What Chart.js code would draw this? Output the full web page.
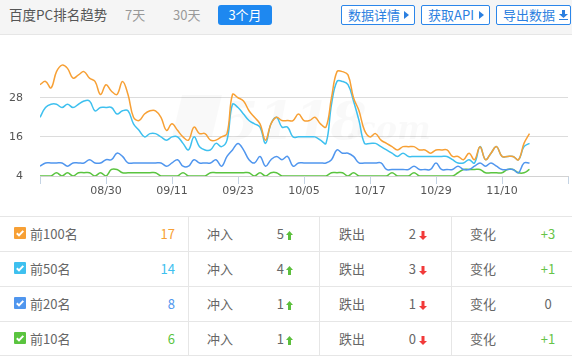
<!DOCTYPE html>
<html>
<head>
<meta charset="utf-8">
<script src="https://cdn.jsdelivr.net/npm/chart.js@4.4.1/dist/chart.umd.min.js"></script>
<style>
* { margin: 0; padding: 0; box-sizing: border-box; }
body { width: 572px; height: 356px; overflow: hidden; background: #fff; position: relative;
  font-family: "Noto Sans CJK SC", "Noto Sans", sans-serif; }
.abs { position: absolute; white-space: nowrap; }
.head { position: absolute; left: 0; top: 0; width: 572px; height: 35px; background: #f5f5f5; border-bottom: 1px solid #e6e6e6; }
.title { left: 9px; top: 0; height: 29px; line-height: 29px; font-size: 13.5px; color: #555; }
.tab { top: 0; height: 29px; line-height: 29px; font-size: 13px; color: #999; }
.tab.on { top: 5px; height: 20px; line-height: 20px; width: 54px; text-align: center; background: #1e88f0; color: #fff; border-radius: 3px; }
.btn { top: 5px; height: 20px; line-height: 18px; border: 1px solid #2b86ea; background: #fff; color: #2b7fe0; font-size: 13px; border-radius: 2px; padding-left: 6px; }
.btn svg { position: absolute; top: 5px; }
#chartBox { position: absolute; left: 0; top: 35px; width: 572px; height: 181px; }
.hline { position: absolute; left: 0; width: 572px; height: 1px; background: #e6e6e6; }
.vline { position: absolute; top: 216px; width: 1px; height: 139px; background: #e6e6e6; }
.cell { position: absolute; height: 34px; line-height: 34px; font-size: 13px; color: #666; white-space: nowrap; }
.chk { position: absolute; left: 14px; width: 12px; height: 12px; border-radius: 1px; }
.chk svg { display: block; }
</style>
</head>
<body>
<div class="head"></div>
<div class="abs title">百度PC排名趋势</div>
<div class="abs tab" style="left:125px">7天</div>
<div class="abs tab" style="left:173px">30天</div>
<div class="abs tab on" style="left:218px">3个月</div>
<div class="abs btn" style="left:341px;width:74px">数据详情<svg width="5" height="8" style="left:62px"><path d="M0 0L5 4L0 8Z" fill="#2b7fe0"/></svg></div>
<div class="abs btn" style="left:421px;width:69px">获取API<svg width="5" height="8" style="left:57px"><path d="M0 0L5 4L0 8Z" fill="#2b7fe0"/></svg></div>
<div class="abs btn" style="left:496px;width:75px">导出数据<svg width="9" height="10" style="left:62px;top:4px"><path d="M3 0H6V4H9L4.5 8L0 4H3Z M0 9H9V10H0Z" fill="#2b7fe0"/></svg></div>

<div id="chartBox"><canvas id="trendChart" width="572" height="181"></canvas></div>
<div id="table"></div>

<script>
// 每日排名数量 (08/18 - 11/15)
const top100 = [32,33,31,36,38,37,34,35,36,34, 33,29,32,30,29,33,29,22,21,23,
  24,24,22,18,20,18,16,15,19,17, 17,15,15,16,17,29,28,27,24,22,
  20,15,20,22,21,21,21,23,21,21, 22,20,19,28,36,36,35,28,24,18,
  16,17,15,14,13,12,13,13,13,12, 12,11,12,12,12,10,10,9,11,9,
  13,9,11,13,10,10,10,9,14,17];
const top50 = [22,25,26,26,25,26,25,26,27,27, 24,25,25,25,23,24,24,20,18,16,
  17,17,16,15,16,16,14,12,16,13, 12,12,14,13,15,26,25,23,21,20,
  19,14,20,22,19,19,16,16,16,16, 16,15,14,26,33,33,32,27,21,14,
  14,14,13,12,11,10,11,10,10,10, 10,10,10,10,10,9,8,8,9,8,
  13,9,11,13,10,10,10,9,13,14];
const top20 = [7,8,8,8,8,7,8,8,8,9, 8,8,9,9,11,10,8,8,8,8,
  8,8,8,7,8,9,7,7,9,8, 8,8,9,7,10,12,14,12,9,8,
  10,7,9,10,9,10,7,8,8,8, 8,8,8,9,12,11,11,10,8,8,
  8,8,8,6,6,6,6,6,7,6, 6,6,8,6,6,6,7,6,6,7,
  8,7,8,7,6,6,6,5,8,8];
const top10 = [4,4,4,5,4,5,4,5,5,5, 4,5,4,6,6,5,5,5,5,5,
  5,5,4,4,4,4,5,4,4,4, 4,5,5,5,5,5,5,5,5,4,
  5,4,5,5,4,4,4,4,4,4, 4,4,4,5,5,5,4,5,4,4,
  4,4,4,4,5,4,4,4,5,4, 4,4,4,4,4,4,5,6,6,6,
  6,5,5,5,5,6,6,5,5,6];

// 刻度
const xTicks = [0, 12, 24, 36, 48, 60, 72, 84, 96];
const xLabels = ['', '08/30', '09/11', '09/23', '10/05', '10/17', '10/29', '11/10', ''];
const yTicks = [4, 16, 28];

// 表格
const rowNames = ['前100名', '前50名', '前20名', '前10名'];
const rowNow = [17, 14, 8, 6];
const rowIn = [5, 4, 1, 1];
const rowOut = [2, 3, 1, 0];
const rowChange = ['+3', '+1', '0', '+1'];
const colors = ['#f7a035', '#3ec0ef', '#5096ee', '#5ac43f'];

function toPoints(arr) {
  return arr.map((v, i) => ({ x: i, y: v }));
}

// 水印
const watermark = {
  id: 'watermark',
  beforeDatasetsDraw(chart) {
    const g = chart.ctx;
    g.save();
    g.fillStyle = 'rgba(0,0,0,0.025)';
    g.beginPath();
    g.moveTo(182, 60); g.lineTo(222, 60); g.lineTo(212, 102); g.lineTo(172, 102); g.closePath();
    g.fill();
    g.font = 'italic bold 52px "DejaVu Serif"';
    g.fillText('5118', 222, 104);
    g.font = 'italic bold 32px "DejaVu Serif"';
    g.fillText('.com', 345, 104);
    g.restore();
  }
};

const ctx = document.getElementById('trendChart').getContext('2d');
new Chart(ctx, {
  type: 'line',
  data: {
    datasets: [
      { data: toPoints(top100), borderColor: colors[0] },
      { data: toPoints(top50), borderColor: colors[1] },
      { data: toPoints(top20), borderColor: colors[2] },
      { data: toPoints(top10), borderColor: colors[3] }
    ].map(d => Object.assign(d, { borderWidth: 1.5, pointRadius: 0, tension: 0.4, fill: false }))
  },
  options: {
    responsive: false,
    animation: false,
    layout: { padding: { top: 21, right: 4, left: 0, bottom: 0 } },
    plugins: { legend: { display: false }, tooltip: { enabled: false } },
    scales: {
      x: {
        type: 'linear', min: 0, max: 96,
        afterBuildTicks: s => { s.ticks = xTicks.map(v => ({ value: v })); },
        afterFit: s => { s.height = 40; },
        grid: { drawOnChartArea: false, drawTicks: true, tickLength: 8, color: '#c5d4e4' },
        border: { display: true, color: '#d2d2d2' },
        ticks: {
          padding: 1, color: '#555', autoSkip: false, maxRotation: 0,
          font: { family: 'DejaVu Sans', size: 11 },
          callback: (v, i) => xLabels[i]
        }
      },
      y: {
        min: 4, max: 40,
        afterBuildTicks: s => { s.ticks = yTicks.map(v => ({ value: v })); },
        afterFit: s => { s.width = 40; },
        grid: { color: '#dcdcdc', drawTicks: false },
        border: { display: false },
        ticks: { padding: 17, color: '#555', font: { family: 'DejaVu Sans', size: 11 } }
      }
    }
  },
  plugins: [watermark]
});

// 表格
const arrowUp = '<svg width="7" height="9" style="margin-left:2px;vertical-align:-1px"><path d="M3.5 0L7 4H5V9H2V4H0Z" fill="#5cbf3d"/></svg>';
const arrowDown = '<svg width="8" height="9" style="margin-left:3px;vertical-align:-1px"><path d="M2.5 0H5.5V5H8L4 9L0 5H2.5Z" fill="#f23a3a"/></svg>';
const rowTops = [216, 251, 286, 321];
let html = '';
rowTops.forEach((t, i) => {
  html += `<div class="hline" style="top:${t}px"></div>`;
  html += `<div class="chk" style="top:${t + 11}px;background:${colors[i]}"><svg width="12" height="12" viewBox="0 0 12 12"><path d="M2.8 6.2L5 8.4L9.3 3.9" stroke="#ffffff" stroke-width="2" fill="none"/></svg></div>`;
  html += `<div class="cell" style="top:${t + 1}px;left:30px">${rowNames[i]}</div>`;
  html += `<div class="cell" style="top:${t + 1}px;left:120px;width:55px;text-align:right;color:${colors[i]}">${rowNow[i]}</div>`;
  html += `<div class="cell" style="top:${t + 1}px;left:207px">冲入</div>`;
  html += `<div class="cell" style="top:${t + 1}px;left:250px;width:43px;text-align:right">${rowIn[i]}${arrowUp}</div>`;
  html += `<div class="cell" style="top:${t + 1}px;left:339px">跌出</div>`;
  html += `<div class="cell" style="top:${t + 1}px;left:380px;width:47px;text-align:right">${rowOut[i]}${arrowDown}</div>`;
  html += `<div class="cell" style="top:${t + 1}px;left:470px">变化</div>`;
  const c = rowChange[i].startsWith('+') ? '#66c447' : '#666';
  html += `<div class="cell" style="top:${t + 1}px;left:518px;width:60px;text-align:center;color:${c}">${rowChange[i]}</div>`;
});
html += '<div class="hline" style="top:355px"></div>';
[188, 319, 451].forEach(x => { html += `<div class="vline" style="left:${x}px"></div>`; });
document.getElementById('table').innerHTML = html;
</script>
</body>
</html>
